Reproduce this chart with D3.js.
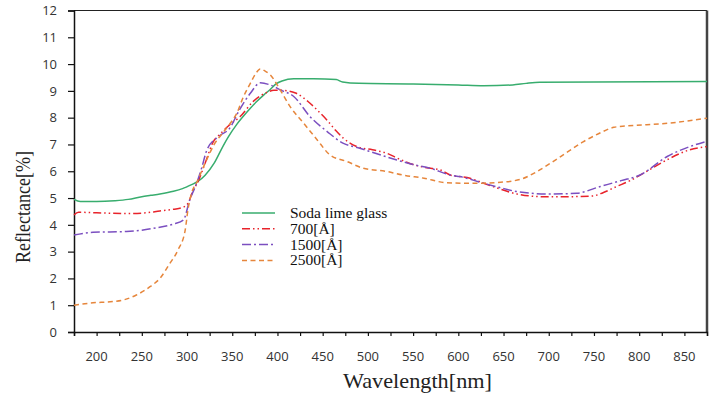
<!DOCTYPE html>
<html>
<head>
<meta charset="utf-8">
<script src="https://cdn.jsdelivr.net/npm/d3@7"></script>
<style>
  body { margin: 0; background: #fff; }
  svg { display: block; }
</style>
</head>
<body>
<div id="chart"></div>
<script>
// wavelength [nm] / reflectance [%] pairs
const sodaLime = [[175,4.95],[182,4.87],[200,4.87],[220,4.9],[235,4.95],[250,5.05],[260,5.1],[270,5.15],[285,5.25],[295,5.35],[305,5.5],[312,5.62],[320,5.85],[330,6.3],[340,6.95],[346,7.3],[355,7.75],[362,8.04],[370,8.35],[377,8.6],[385,8.85],[392,9.05],[398,9.25],[405,9.37],[418,9.45],[440,9.45],[465,9.42],[472,9.33],[490,9.28],[550,9.26],[600,9.22],[628,9.19],[660,9.22],[675,9.28],[690,9.32],[750,9.33],[875,9.35]];
const film700 = [[175,4.37],[180,4.47],[200,4.45],[233,4.42],[255,4.45],[270,4.52],[285,4.58],[296,4.66],[301,4.8],[307,5.3],[312,5.6],[320,6.3],[329,7.1],[337,7.4],[346,7.7],[359,8.05],[373,8.6],[388,8.94],[396,9.02],[405,9.02],[420,8.92],[436,8.54],[445,8.25],[455,7.9],[465,7.5],[473,7.23],[488,6.92],[505,6.8],[521,6.67],[535,6.45],[550,6.25],[565,6.13],[580,6.05],[591,5.86],[613,5.74],[628,5.55],[645,5.35],[665,5.15],[694,5.05],[720,5.05],[749,5.08],[760,5.2],[775,5.43],[790,5.65],[805,5.93],[827,6.36],[856,6.8],[875,6.92]];
const film1500 = [[175,3.62],[196,3.72],[233,3.75],[250,3.8],[263,3.87],[285,4.03],[296,4.18],[303,4.93],[310,5.5],[316,6.1],[322,6.8],[335,7.3],[347,7.6],[358,8.29],[370,8.91],[381,9.3],[392,9.22],[403,9.04],[418,8.79],[436,8.04],[455,7.48],[473,7.04],[491,6.86],[510,6.65],[532,6.42],[550,6.25],[569,6.11],[591,5.86],[602,5.8],[628,5.55],[645,5.4],[665,5.24],[700,5.15],[731,5.18],[757,5.43],[780,5.65],[801,5.86],[831,6.55],[856,6.92],[875,7.12]];
const film2500 = [[175,1.0],[196,1.09],[215,1.13],[230,1.2],[244,1.38],[259,1.69],[270,2.0],[281,2.56],[290,3.06],[298,3.81],[301,4.56],[305,5.18],[311,5.6],[320,6.3],[330,7.0],[340,7.45],[348,7.8],[355,8.16],[362,8.75],[370,9.28],[376,9.65],[381,9.82],[386,9.75],[392,9.6],[403,9.04],[414,8.41],[429,7.79],[444,7.17],[458,6.61],[477,6.36],[495,6.11],[521,5.99],[540,5.85],[562,5.74],[585,5.58],[613,5.55],[643,5.58],[669,5.7],[685,5.95],[702,6.3],[720,6.7],[738,7.1],[755,7.4],[772,7.64],[786,7.69],[831,7.79],[875,7.98]];

const seriesNames = ['Soda lime glass', '700[Å]', '1500[Å]', '2500[Å]'];
const xTickLabels = [200, 250, 300, 350, 400, 450, 500, 550, 600, 650, 700, 750, 800, 850];
const yTickLabels = [0, 1, 2, 3, 4, 5, 6, 7, 8, 9, 10, 11, 12];

const width = 719, height = 394;
const margin = {top: 10.5, right: 12, bottom: 62, left: 74};

const svg = d3.select('#chart').append('svg')
  .attr('width', width)
  .attr('height', height);

const x = d3.scaleLinear().domain([175, 875]).range([margin.left, width - margin.right]);
const y = d3.scaleLinear().domain([0, 12]).range([height - margin.bottom, margin.top]);

// frame: thin top, heavier grey right side
svg.append('line')
  .attr('x1', x(175)).attr('x2', x(875))
  .attr('y1', y(12)).attr('y2', y(12))
  .style('stroke', '#222').style('stroke-width', 1.2);
svg.append('line')
  .attr('x1', x(875)).attr('x2', x(875))
  .attr('y1', y(12)).attr('y2', y(0))
  .style('stroke', '#444').style('stroke-width', 2.5);

// x axis, ticks every 25 nm, labels every 50
const xAxis = svg.append('g')
  .attr('transform', `translate(0,${y(0)})`)
  .call(d3.axisBottom(x).tickValues(d3.range(175, 876, 25)).tickSize(4).tickFormat(''));
xAxis.select('.domain').style('stroke', '#111').style('stroke-width', 1.5);
xAxis.selectAll('.tick line').style('stroke', '#111').style('stroke-width', 1.2);

svg.append('g').selectAll('text')
  .data(xTickLabels)
  .enter().append('text')
  .attr('x', d => x(d))
  .attr('y', y(0) + 29)
  .attr('text-anchor', 'middle')
  .style('font-family', '"Open Sans", sans-serif')
  .style('font-size', '13px')
  .style('fill', '#333')
  .text(d => d);

// y axis
const yAxis = svg.append('g')
  .attr('transform', `translate(${margin.left},0)`)
  .call(d3.axisLeft(y).tickValues(yTickLabels).tickSize(6).tickPadding(11));
yAxis.select('.domain').style('stroke', '#111').style('stroke-width', 1.5);
yAxis.selectAll('.tick line').style('stroke', '#111').style('stroke-width', 1.2);
yAxis.selectAll('.tick text')
  .style('font-family', '"Open Sans", sans-serif')
  .style('font-size', '13px')
  .style('fill', '#333');

// axis titles
svg.append('text')
  .attr('x', 343)
  .attr('y', 388)
  .attr('textLength', 149)
  .attr('lengthAdjust', 'spacingAndGlyphs')
  .style('font-family', '"Liberation Serif", "Times New Roman", serif')
  .style('font-size', '21px')
  .style('fill', '#222')
  .text('Wavelength[nm]');

svg.append('text')
  .attr('transform', 'translate(30,263) rotate(-90)')
  .attr('textLength', 112)
  .attr('lengthAdjust', 'spacingAndGlyphs')
  .style('font-family', '"Liberation Serif", "Times New Roman", serif')
  .style('font-size', '20px')
  .style('fill', '#222')
  .text('Reflectance[%]');

// series lines
const series = [
  {name: seriesNames[0], values: sodaLime, color: '#38ad6e', dash: null},
  {name: seriesNames[1], values: film700, color: '#e8232b', dash: '8,3,1.5,3,1.5,3'},
  {name: seriesNames[2], values: film1500, color: '#7b4fc0', dash: '9,3,2,3'},
  {name: seriesNames[3], values: film2500, color: '#e6863c', dash: '5,3.5'}
];

const line = d3.line()
  .x(d => x(d[0]))
  .y(d => y(d[1]))
  .curve(d3.curveMonotoneX);

svg.append('g')
  .selectAll('path')
  .data(series)
  .enter().append('path')
  .attr('d', d => line(d.values))
  .style('fill', 'none')
  .style('stroke', d => d.color)
  .style('stroke-width', 1.5)
  .style('stroke-dasharray', d => d.dash);

// legend
const legend = svg.append('g').attr('transform', 'translate(242,213)');
const rows = legend.selectAll('g')
  .data(series)
  .enter().append('g')
  .attr('transform', (d, i) => `translate(0,${i * 15.8})`);
rows.append('line')
  .attr('x1', 0).attr('x2', 33)
  .style('stroke', d => d.color)
  .style('stroke-width', 1.5)
  .style('stroke-dasharray', d => d.dash);
rows.append('text')
  .attr('x', 48)
  .attr('y', 5)
  .style('font-family', '"Liberation Serif", "Times New Roman", serif')
  .style('font-size', '15.5px')
  .style('fill', '#111')
  .text(d => d.name);
</script>
</body>
</html>
